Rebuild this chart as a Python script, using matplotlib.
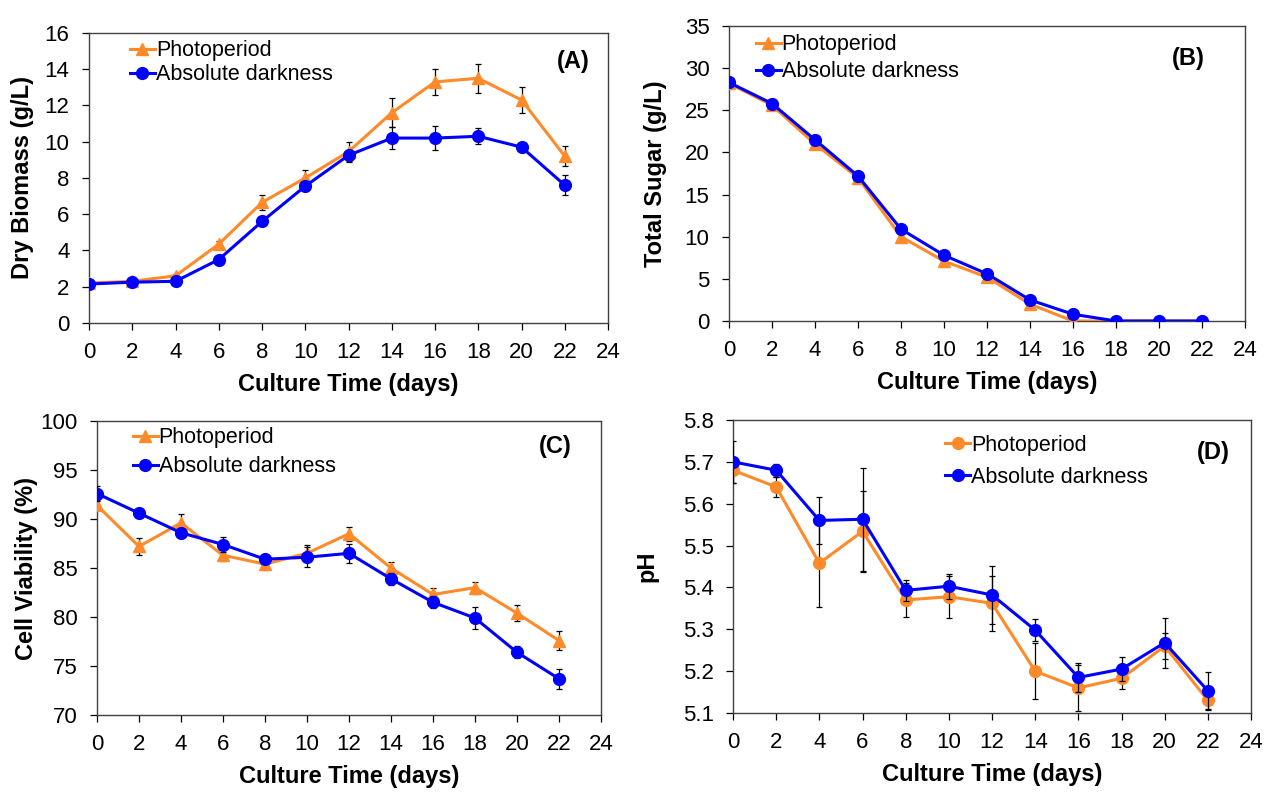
import matplotlib
matplotlib.use('Agg')
import matplotlib.pyplot as plt

plt.rcParams['font.family'] = ['Liberation Sans', 'DejaVu Sans']

ORANGE = '#FF8A2A'
BLUE = '#0000FF'

days = [0, 2, 4, 6, 8, 10, 12, 14, 16, 18, 20, 22]

# (A) dry biomass, g/L
biomass_photo = [2.2, 2.3, 2.6, 4.35, 6.65, 8.0, 9.45, 11.6, 13.3, 13.5, 12.3, 9.2]
biomass_photo_err = [0.1, 0.1, 0.1, 0.15, 0.4, 0.45, 0.55, 0.8, 0.73, 0.8, 0.7, 0.55]
biomass_dark = [2.15, 2.25, 2.3, 3.5, 5.6, 7.55, 9.25, 10.2, 10.2, 10.3, 9.7, 7.6]
biomass_dark_err = [0.1, 0.1, 0.1, 0.15, 0.2, 0.2, 0.3, 0.6, 0.65, 0.45, 0.25, 0.55]

# (B) total sugar, g/L
sugar_photo = [28.2, 25.6, 21.0, 17.0, 10.0, 7.1, 5.2, 2.0, 0.0, 0.0, 0.0, 0.0]
sugar_photo_err = [0.4, 0.3, 0.5, 0.5, 0.3, 0.5, 0.3, 0.2, 0.0, 0.0, 0.0, 0.0]
sugar_dark = [28.3, 25.8, 21.5, 17.2, 10.9, 7.8, 5.6, 2.5, 0.8, 0.0, 0.0, 0.0]
sugar_dark_err = [0.4, 0.3, 0.4, 0.6, 0.4, 0.3, 0.3, 0.2, 0.1, 0.0, 0.0, 0.0]

# (C) cell viability, %
viab_photo = [91.4, 87.2, 89.6, 86.3, 85.4, 86.5, 88.5, 85.0, 82.3, 83.0, 80.4, 77.6]
viab_photo_err = [0.5, 0.85, 0.9, 0.6, 0.6, 0.8, 0.7, 0.6, 0.7, 0.6, 0.8, 1.0]
viab_dark = [92.6, 90.6, 88.6, 87.4, 85.9, 86.1, 86.5, 83.9, 81.5, 79.9, 76.4, 73.7]
viab_dark_err = [0.8, 0.3, 0.4, 0.8, 0.4, 1.0, 1.0, 0.6, 0.6, 1.1, 0.6, 1.0]

# (D) pH
ph_photo = [5.68, 5.64, 5.458, 5.534, 5.37, 5.378, 5.362, 5.2, 5.16, 5.183, 5.26, 5.13]
ph_photo_err = [0.03, 0.025, 0.105, 0.097, 0.04, 0.05, 0.065, 0.067, 0.055, 0.025, 0.03, 0.02]
ph_dark = [5.70, 5.68, 5.56, 5.563, 5.393, 5.403, 5.382, 5.298, 5.185, 5.205, 5.268, 5.153]
ph_dark_err = [0.05, 0.015, 0.057, 0.123, 0.025, 0.03, 0.07, 0.027, 0.035, 0.028, 0.06, 0.045]

fig = plt.figure(figsize=(12.66, 7.92), dpi=100)


def panel(rect, photo, photo_err, dark, dark_err, ylim, yticks, ylabel, ylabelpad,
          tag, tag_pos, leg_pos, leg_space, photo_marker='^', ytickfmt=None):
    ax = fig.add_axes(rect)
    p = ax.errorbar(days, photo, yerr=photo_err, color=ORANGE, marker=photo_marker,
                    markersize=8.5, lw=2.2, ecolor='black', elinewidth=0.9, capsize=2.5,
                    capthick=0.9, zorder=3)
    d = ax.errorbar(days, dark, yerr=dark_err, color=BLUE, marker='o',
                    markersize=8.5, lw=2.2, ecolor='black', elinewidth=0.9, capsize=2.5,
                    capthick=0.9, zorder=4)
    ax.set_xlim(0, 24)
    ax.set_xticks(range(0, 25, 2))
    ax.set_ylim(*ylim)
    ax.set_yticks(yticks)
    if ytickfmt:
        ax.set_yticklabels([ytickfmt.format(v) for v in yticks])
    ax.tick_params(labelsize=16, direction='out', length=5, width=0.9)
    ax.tick_params(axis='x', pad=9)
    ax.tick_params(axis='y', pad=9)
    ax.set_xlabel('Culture Time (days)', fontsize=17, fontweight='bold', labelpad=7)
    ax.set_ylabel(ylabel, fontsize=17, fontweight='bold', labelpad=ylabelpad)
    for s in ax.spines.values():
        s.set_color('#404040')
        s.set_linewidth(1.0)
    ax.text(tag_pos[0], tag_pos[1], tag, transform=ax.transAxes, fontsize=17,
            fontweight='bold', ha='center', va='center')
    ax.legend([p[0], d[0]], ['Photoperiod', 'Absolute darkness'], loc='upper left',
              bbox_to_anchor=leg_pos, frameon=False, fontsize=15.5,
              handlelength=1.15, handletextpad=0.05, borderpad=0,
              borderaxespad=0, labelspacing=leg_space)
    return ax


panel([0.0703, 0.5922, 0.41, 0.3662], biomass_photo, biomass_photo_err,
      biomass_dark, biomass_dark_err, (0, 16), range(0, 17, 2),
      'Dry Biomass (g/L)', 7.5, '(A)', (0.933, 0.9), (0.079, 0.975), 0.14)

panel([0.5758, 0.5947, 0.4076, 0.3725], sugar_photo, sugar_photo_err,
      sugar_dark, sugar_dark_err, (0, 35), range(0, 36, 5),
      'Total Sugar (g/L)', 12.5, '(B)', (0.891, 0.891), (0.052, 0.972), 0.28)

panel([0.0766, 0.0972, 0.3981, 0.3712], viab_photo, viab_photo_err,
      viab_dark, viab_dark_err, (70, 100), range(70, 101, 5),
      'Cell Viability (%)', 1.5, '(C)', (0.909, 0.912), (0.071, 0.978), 0.37)

panel([0.579, 0.0997, 0.4092, 0.37], ph_photo, ph_photo_err,
      ph_dark, ph_dark_err, (5.1, 5.8),
      [5.1, 5.2, 5.3, 5.4, 5.5, 5.6, 5.7, 5.8],
      'pH', 17, '(D)', (0.927, 0.89), (0.41, 0.95), 0.51, photo_marker='o',
      ytickfmt='{:.1f}')

fig.savefig('out.png', dpi=100)
